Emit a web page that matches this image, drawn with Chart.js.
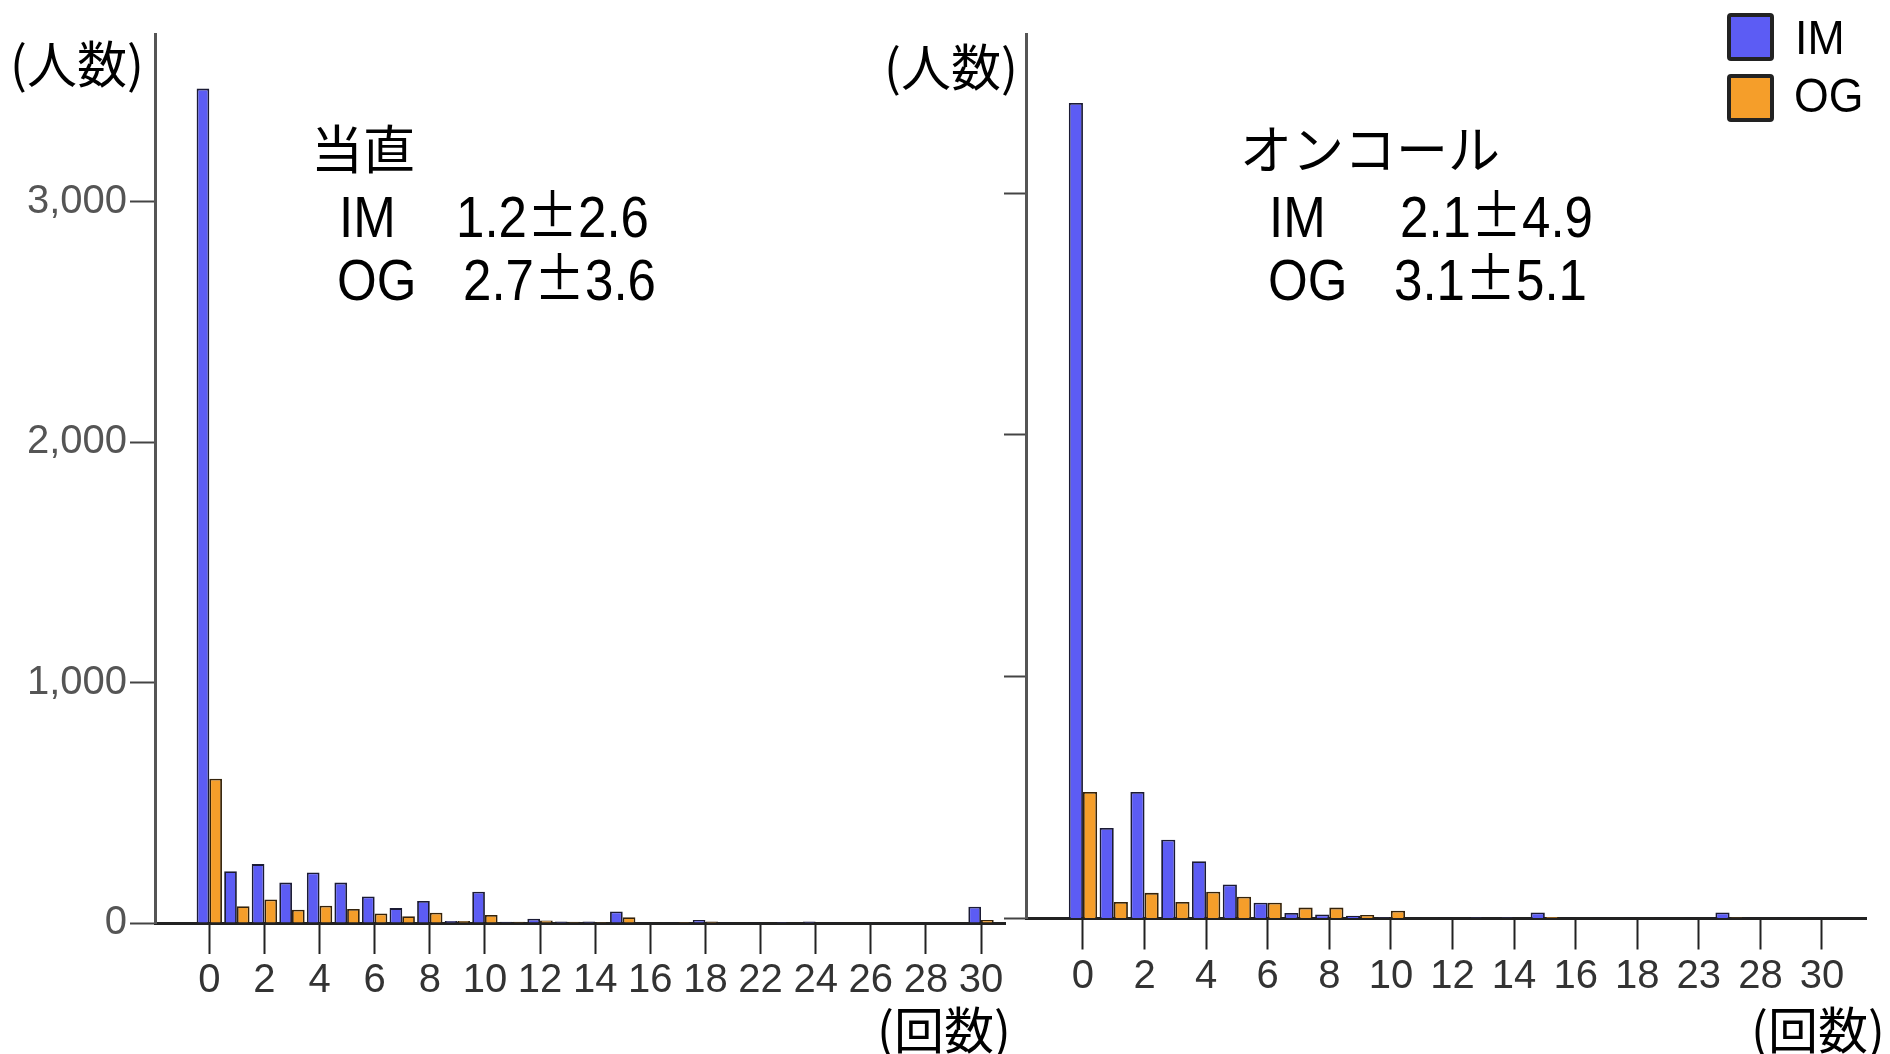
<!DOCTYPE html>
<html lang="ja">
<head>
<meta charset="utf-8">
<script src="https://cdn.jsdelivr.net/npm/chart.js@4.4.3/dist/chart.umd.min.js"></script>
<style>
  html, body { margin: 0; padding: 0; background: #fff; }
  body { width: 1890px; height: 1054px; position: relative; overflow: hidden; }
  canvas { position: absolute; top: 0; }
  .txt { position: absolute; line-height: 1; white-space: nowrap; color: #000; transform-origin: 0 0; }
  .jp { font-family: "Noto Sans CJK JP", sans-serif; }
  .en { font-family: "Liberation Sans", Arial, sans-serif; }
  .stat { font-size: 58px; transform: scaleX(0.88); }
  .pm { font-family: "Noto Sans CJK JP", sans-serif; font-feature-settings: "fwid" 1; line-height: 0; }
  .lg { font-size: 48px; transform: scaleX(0.93); }
  .swatch { position: absolute; box-sizing: border-box; border: 4px solid #222; border-radius: 4px; }
</style>
</head>
<body>

<canvas id="tochoku" width="1030" height="1054" style="left:0"></canvas>
<canvas id="oncall" width="1030" height="1054" style="left:860px"></canvas>

<!-- 軸タイトル -->
<div class="txt jp" style="left:10px; top:36px; font-size:50px;">(人数)</div>
<div class="txt jp" style="left:884px; top:39px; font-size:50px;">(人数)</div>
<div class="txt jp" style="left:877px; top:1002px; font-size:50px;">(回数)</div>
<div class="txt jp" style="left:1751px; top:1002px; font-size:50px;">(回数)</div>

<!-- 注記 -->
<div class="txt jp" style="left:311px; top:121px; font-size:52px;">当直</div>
<div class="txt en stat" style="left:339px; top:188px;">IM</div>
<div class="txt en stat" style="left:456px; top:188px;">1.2<span class="pm">±</span>2.6</div>
<div class="txt en stat" style="left:337px; top:251px;">OG</div>
<div class="txt en stat" style="left:463px; top:251px;">2.7<span class="pm">±</span>3.6</div>

<div class="txt jp" style="left:1240px; top:121px; font-size:52px;">オンコール</div>
<div class="txt en stat" style="left:1269px; top:188px;">IM</div>
<div class="txt en stat" style="left:1400px; top:188px;">2.1<span class="pm">±</span>4.9</div>
<div class="txt en stat" style="left:1268px; top:251px;">OG</div>
<div class="txt en stat" style="left:1394px; top:251px;">3.1<span class="pm">±</span>5.1</div>

<!-- 凡例 -->
<div class="swatch" style="left:1727px; top:13px; width:47px; height:48px; background:#5c5cf4;"></div>
<div class="swatch" style="left:1727px; top:74px; width:47px; height:48px; background:#f59e2a;"></div>
<div class="txt en lg" style="left:1795px; top:14px;">IM</div>
<div class="txt en lg" style="left:1794px; top:72px;">OG</div>

<script>
// 当直: 回数ごとの人数
const catsTochoku = [0, 1, 2, 3, 4, 5, 6, 7, 8, 9, 10, 11, 12, 13, 14, 15, 16, 17, 18, 20, 22, 23, 24, 25, 26, 27, 28, 29, 30];
const imTochoku = [3470, 215, 245, 168, 210, 168, 110, 62, 92, 8, 130, 5, 18, 6, 6, 48, 3, 3, 12, 3, 3, 4, 6, 3, 3, 2, 3, 3, 68];
const ogTochoku = [600, 70, 98, 55, 72, 58, 40, 28, 43, 8, 33, 5, 10, 5, 4, 24, 3, 4, 6, 3, 3, 3, 3, 3, 3, 2, 2, 3, 12];

// オンコール: 回数ごとの人数
const catsOncall = [0, 1, 2, 3, 4, 5, 6, 7, 8, 9, 10, 11, 12, 13, 14, 15, 16, 17, 18, 20, 23, 25, 28, 29, 30, 31];
const imOncall = [3373, 374, 523, 326, 237, 141, 65, 23, 17, 11, 4, 3, 3, 4, 4, 25, 3, 3, 3, 3, 3, 25, 3, 3, 3, 3];
const ogOncall = [523, 68, 106, 68, 111, 90, 65, 45, 45, 14, 32, 2, 2, 2, 2, 6, 2, 2, 2, 2, 2, 4, 2, 2, 2, 2];

// 縦軸の目盛り
const yTicks = [0, 1000, 2000, 3000];

const IM_COLOR = '#5c5cf4';
const OG_COLOR = '#f59e2a';

const tickFont = { family: "'Liberation Sans', Arial, sans-serif", size: 40 };

function makeChart(id, cats, im, og, o) {
    return new Chart(document.getElementById(id), {
        type: 'bar',
        data: {
            datasets: [
                { label: 'IM', data: im.map((v, i) => ({ x: i, y: v })), backgroundColor: IM_COLOR, borderColor: '#1b1b35', borderWidth: 1.8 },
                { label: 'OG', data: og.map((v, i) => ({ x: i, y: v })), backgroundColor: OG_COLOR, borderColor: '#35230a', borderWidth: 1.8 }
            ]
        },
        options: {
            responsive: false,
            animation: false,
            layout: { padding: { top: o.top, right: o.right, left: 0, bottom: 0 } },
            datasets: { bar: { categoryPercentage: 0.92, barPercentage: 1 } },
            plugins: { legend: { display: false }, tooltip: { enabled: false } },
            scales: {
                x: {
                    type: 'linear',
                    offset: false,
                    min: o.xMin,
                    max: o.xMax,
                    // 1つおきにラベル
                    afterBuildTicks: s => { s.ticks = cats.map((c, i) => ({ value: i })).filter(t => t.value % 2 === 0); },
                    afterFit: s => { s.height = o.xHeight; },
                    ticks: { autoSkip: false, maxRotation: 0, padding: 3, color: '#333', font: tickFont, callback: v => String(cats[v]) },
                    grid: { offset: false, drawOnChartArea: false, tickLength: 31, tickWidth: 2, tickColor: '#222' },
                    border: { color: '#222', width: 3 }
                },
                y: {
                    min: 0,
                    max: o.yMax,
                    afterBuildTicks: s => { s.ticks = yTicks.map(v => ({ value: v })); },
                    afterFit: s => { s.width = o.yWidth; },
                    ticks: { display: o.yLabels, autoSkip: false, padding: 3, color: '#555', font: tickFont, callback: v => v.toLocaleString('en-US') },
                    grid: { drawOnChartArea: false, tickLength: o.yTick, tickWidth: 2, tickColor: '#444' },
                    border: { color: '#555', width: 3 }
                }
            }
        }
    });
}

makeChart('tochoku', catsTochoku, imTochoku, ogTochoku, {
    top: 34, right: 25, xMin: -1.97, xMax: 28.87, xHeight: 131,
    yMax: 3697, yWidth: 155, yTick: 25, yLabels: true
});

makeChart('oncall', catsOncall, imOncall, ogOncall, {
    top: 34, right: 24, xMin: -1.85, xMax: 25.43, xHeight: 135.5,
    yMax: 3658, yWidth: 166, yTick: 22, yLabels: false
});
</script>
</body>
</html>
